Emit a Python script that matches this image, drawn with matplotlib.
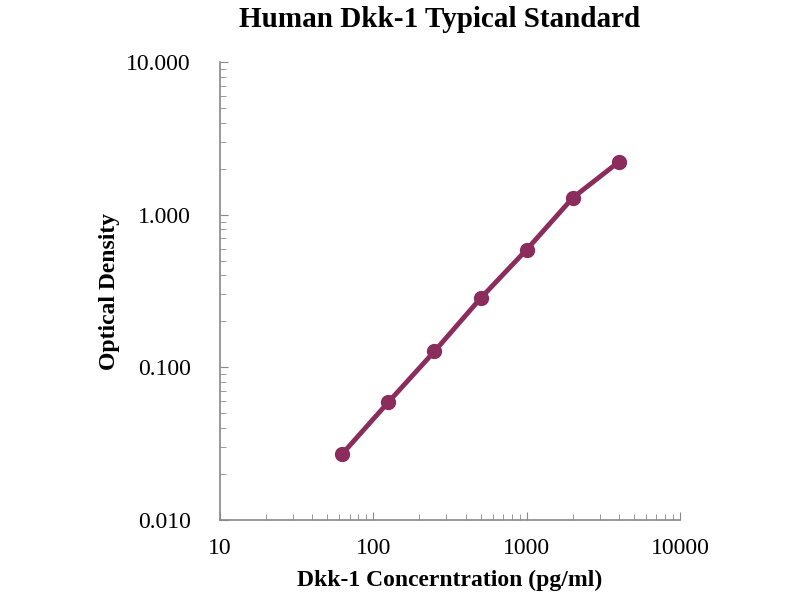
import matplotlib.pyplot as plt
import numpy as np
from matplotlib.ticker import FixedLocator, FixedFormatter, LogLocator, NullFormatter

concentration = [62.5, 125, 250, 500, 1000, 2000, 4000]
optical_density = [0.027, 0.059, 0.127, 0.283, 0.59, 1.29, 2.22]

x_ticks = [10, 100, 1000, 10000]
x_tick_labels = ["10", "100", "1000", "10000"]
y_ticks = [0.01, 0.1, 1, 10]
y_tick_labels = ["0.010", "0.100", "1.000", "10.000"]

plt.rcParams["font.family"] = ["Liberation Serif", "DejaVu Serif"]

fig = plt.figure(figsize=(8, 6), dpi=100)
ax = fig.add_axes([0.275, 0.1333, 0.575, 0.7634])

color = "#8a2c5c"
ax.plot(concentration, optical_density, color=color, linewidth=3.5,
        marker="o", markersize=10, markerfacecolor=color, markeredgecolor=color)

ax.set_xscale("log")
ax.set_yscale("log")
ax.set_xlim(10, 10000)
ax.set_ylim(0.01, 10)

ax.xaxis.set_major_locator(FixedLocator(x_ticks))
ax.xaxis.set_major_formatter(FixedFormatter(x_tick_labels))
ax.yaxis.set_major_locator(FixedLocator(y_ticks))
ax.yaxis.set_major_formatter(FixedFormatter(y_tick_labels))
ax.xaxis.set_minor_locator(LogLocator(base=10, subs=np.arange(2, 10)))
ax.yaxis.set_minor_locator(LogLocator(base=10, subs=np.arange(2, 10)))
ax.xaxis.set_minor_formatter(NullFormatter())
ax.yaxis.set_minor_formatter(NullFormatter())

for side in ["top", "right"]:
    ax.spines[side].set_visible(False)
for side in ["left", "bottom"]:
    ax.spines[side].set_color("#888888")
    ax.spines[side].set_linewidth(1.2)

ax.tick_params(which="both", direction="in", color="#888888", labelsize=17)
ax.tick_params(axis="y", pad=21)
ax.tick_params(axis="x", pad=13)
ax.tick_params(which="major", length=6)
ax.tick_params(which="minor", length=4)

fig.text(0.55, 0.967, "Human Dkk-1 Typical Standard", fontsize=21, fontweight="bold",
         ha="center", va="center")
ax.set_xlabel("Dkk-1 Concerntration (pg/ml)", fontsize=17, fontweight="bold")
ax.set_ylabel("Optical Density", fontsize=17, fontweight="bold")
ax.xaxis.set_label_coords(0.5, -0.108)
ax.yaxis.set_label_coords(-0.218, 0.5)

fig.savefig("out.png", dpi=100)
plt.close(fig)
